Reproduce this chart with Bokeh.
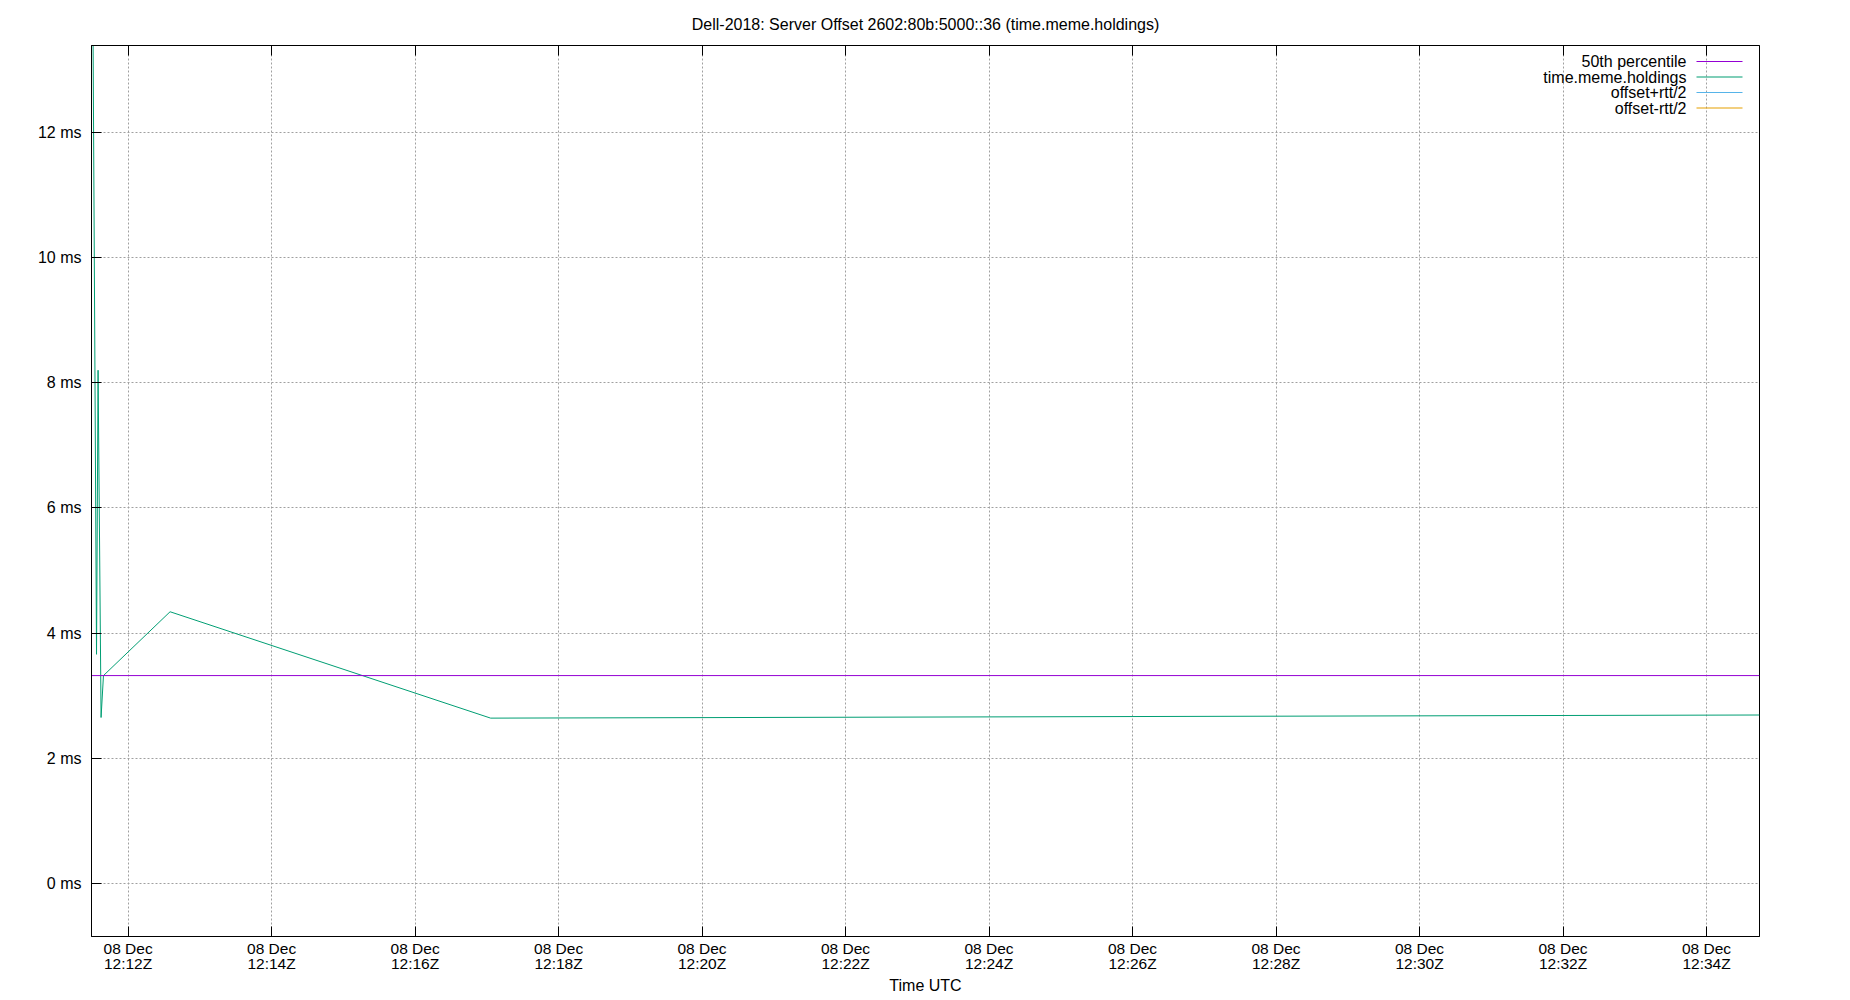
import pandas as pd
from bokeh.embed import file_html
from bokeh.resources import INLINE
from bokeh.plotting import figure
from bokeh.models import (Range1d, FixedTicker, PrintfTickFormatter, DatetimeAxis,
                          CustomJSTickFormatter, Label, BoxAnnotation)

TITLE = "Dell-2018: Server Offset 2602:80b:5000::36 (time.meme.holdings)"
X_LABEL = "Time UTC"

# offset samples (the first one sits above the shown range)
SAMPLE_TIMES = ["2018-12-08 12:11:29.4", "2018-12-08 12:11:33.6", "2018-12-08 12:11:34.9",
                "2018-12-08 12:11:37.4", "2018-12-08 12:11:39.4", "2018-12-08 12:12:35.1",
                "2018-12-08 12:17:03.2", "2018-12-08 12:34:44.3"]
OFFSET_MS = [18.0, 3.66, 8.2, 2.65, 3.32, 4.34, 2.64, 2.69]
MEDIAN_MS = 3.32

Y_TICKS = [0, 2, 4, 6, 8, 10, 12]
Y_MIN, Y_MAX = -0.85, 13.39
X_TICK_TIMES = ["2018-12-08 12:%02d" % m for m in range(12, 35, 2)]

LEGEND_LABELS = ["50th percentile", "time.meme.holdings", "offset+rtt/2", "offset-rtt/2"]
LEGEND_COLORS = ["#9400d3", "#009e73", "#56b4e9", "#e69f00"]

FONT = "Liberation Sans"
# bokeh's page template has no body margin, so the figure can fill the window
W, H = 1850, 1000
LEFT, RIGHT, TOP, BOTTOM = 91, 91, 45, 64
FRAME_W = W - LEFT - RIGHT
FRAME_H = H - TOP - BOTTOM

times = pd.to_datetime(SAMPLE_TIMES)
tick_ts = pd.to_datetime(X_TICK_TIMES)
tick_ms = [t.value / 1e6 for t in tick_ts]
tick_text = {v: t.strftime("%d %b\n%H:%MZ") for v, t in zip(tick_ms, tick_ts)}

p = figure(width=W, height=H, x_axis_type="datetime",
           output_backend="svg", toolbar_location=None,
           x_range=Range1d(times[0], times[-1]), y_range=Range1d(Y_MIN, Y_MAX),
           min_border_left=LEFT, min_border_right=RIGHT,
           min_border_top=TOP, min_border_bottom=BOTTOM)
p.title.text = TITLE
p.title.align = "center"
p.title.text_font = FONT
p.title.text_font_size = "16px"
p.title.text_font_style = "normal"
p.title.text_color = "black"
p.title.text_line_height = 1.0
p.title.standoff = 25
p.outline_line_color = "black"
p.outline_line_alpha = 1

# the data
p.line(times, OFFSET_MS, color="#009e73", line_width=1)
p.line([times[0], times[-1]], [MEDIAN_MS, MEDIAN_MS], color="#9400d3", line_width=1)

xt = FixedTicker(ticks=tick_ms)
yt = FixedTicker(ticks=Y_TICKS)

xa = p.xaxis[0]
xa.ticker = xt
xa.major_label_overrides = tick_text
xa.major_label_standoff = 3
xa.major_label_text_font_size = "15.5px"
xa.major_label_text_line_height = 0.92
xa.axis_label = X_LABEL
xa.axis_label_standoff = 2
xa.axis_label_text_font = FONT
xa.axis_label_text_font_size = "16px"
xa.axis_label_text_font_style = "normal"
xa.axis_label_text_color = "black"

ya = p.yaxis[0]
ya.ticker = yt
ya.formatter = PrintfTickFormatter(format="%d ms")
ya.major_label_standoff = 10
ya.major_label_text_font_size = "16px"

# mirrored ticks along the top, no labels
top = DatetimeAxis(ticker=xt, formatter=CustomJSTickFormatter(code="return ''"))
top.major_label_text_font_size = "0px"
top.major_label_standoff = 0
p.add_layout(top, "above")

for ax in (xa, ya, top):
    ax.major_tick_in = 10
    ax.major_tick_out = 0
    ax.minor_tick_in = 0
    ax.minor_tick_out = 0
    ax.axis_line_color = "black"
    ax.major_tick_line_color = "black"
    ax.major_label_text_font = FONT
    ax.major_label_text_color = "black"

p.xgrid.ticker = xt
p.ygrid.ticker = yt
for g in (p.xgrid[0], p.ygrid[0]):
    g.grid_line_color = "#a0a0a0"
    g.grid_line_dash = "2 2"
    g.grid_line_width = 1

# gnuplot style key: right aligned text, sample to the right, rows counted from the top
ms_per_px = (Y_MAX - Y_MIN) / FRAME_H
for i, (lab, col) in enumerate(zip(LEGEND_LABELS, LEGEND_COLORS)):
    y = Y_MAX - (16 + i * 15.5) * ms_per_px
    half = 0.5 * ms_per_px
    p.add_layout(Label(x=1595, y=y, x_units="screen", text=lab,
                       text_align="right", text_baseline="middle", text_font=FONT,
                       text_font_size="16px", text_color="black"))
    p.add_layout(BoxAnnotation(left=1605, right=1651, bottom=y - half, top=y + half,
                               left_units="screen", right_units="screen",
                               fill_color=col, fill_alpha=1, line_color=None))

open("out.html", "w").write(file_html(p, INLINE))
